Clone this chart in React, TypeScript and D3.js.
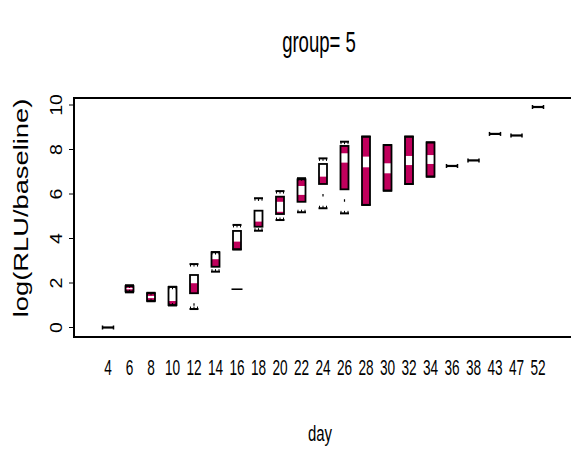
import * as d3 from 'd3';

// one box per day (log RLU / baseline)
const days = ['4', '6', '8', '10', '12', '14', '16', '18', '20', '22', '24', '26', '28', '30', '32', '34', '36', '38', '43', '47', '52'];
const whiskerLow = [0, 1.58, 1.18, 0.99, 0.83, 2.51, 3.51, 4.35, 4.83, 5.18, 5.36, 5.13, 5.51, 6.15, 6.45, 6.78, 7.26, 7.51, 8.7, 8.63, 9.91];
const q1 = [0, 1.62, 1.2, 1.01, 1.54, 2.73, 3.51, 4.53, 5.1, 5.65, 6.45, 6.21, 5.51, 6.15, 6.45, 6.78, 7.26, 7.51, 8.7, 8.63, 9.91];
const medians = [0, 1.75, 1.37, 1.55, 2.2, 3.25, 4.1, 5.0, 5.43, 6.16, 7.1, 7.62, 7.44, 7.15, 7.5, 7.55, 7.26, 7.51, 8.7, 8.63, 9.91];
const q3 = [0, 1.86, 1.54, 1.82, 2.36, 3.38, 4.34, 5.25, 5.88, 6.66, 7.35, 8.16, 8.58, 8.2, 8.58, 8.32, 7.26, 7.51, 8.7, 8.63, 9.91];
const whiskerHigh = [0, 1.9, 1.56, 1.83, 2.85, 3.39, 4.61, 5.81, 6.13, 6.71, 7.6, 8.35, 8.58, 8.2, 8.58, 8.32, 7.26, 7.51, 8.7, 8.63, 9.91];
const notchLo = [0, 1.72, 1.32, 1.19, 1.99, 3.07, 3.86, 4.76, 5.2, 5.96, 6.78, 7.41, 7.2, 6.93, 7.3, 7.35, 7.26, 7.51, 8.7, 8.63, 9.91];
const notchHi = [0, 1.78, 1.42, 1.91, 2.41, 3.43, 4.4, 5.3, 5.65, 6.36, 7.42, 7.83, 7.68, 7.38, 7.71, 7.75, 7.26, 7.51, 8.7, 8.63, 9.91];
const outlierDays = ['16'];
const outlierValues = [1.72];
const yTicks = [0, 2, 4, 6, 8, 10];

const W = 571;
const H = 455;
const frame = { left: 74, top: 98, right: 576, bottom: 337 };
const fill = '#c0005c';
const font = '"Liberation Sans", Arial, sans-serif';

export default function App() {
  const x = d3.scalePoint<string>().domain(days).range([108, 538]);
  const y = d3.scaleLinear().domain([0, 10]).range([327.5, 105]);
  const bw = 4; // half box width
  const cw = 4.5; // half cap width

  const boxes = days.map((d, i) => ({
    day: d,
    cx: x(d) ?? 0,
    lo: whiskerLow[i],
    q1: q1[i],
    med: medians[i],
    q3: q3[i],
    hi: whiskerHigh[i],
    nlo: Math.max(notchLo[i], q1[i]),
    nhi: Math.min(notchHi[i], q3[i]),
  }));

  const cap = (cx: number, v: number, dir: number, ticks: boolean, key: string) => (
    <g key={key}>
      <line x1={cx - cw} x2={cx + cw} y1={y(v)} y2={y(v)} stroke="#000" strokeWidth={2} />
      {ticks &&
        [-3.5, 0, 3.5].map((o) => (
          <line key={o} x1={cx + o} x2={cx + o} y1={y(v)} y2={y(v) + dir * 2.5} stroke="#000" strokeWidth={1} />
        ))}
    </g>
  );

  return (
    <svg width={W} height={H} style={{ position: 'fixed', left: 0, top: 0, background: '#fff' }}>
      <text
        transform={`translate(319,52) scale(0.64,1)`}
        textAnchor="middle"
        fontFamily={font}
        fontSize={29}
      >
        group= 5
      </text>

      {/* frame */}
      <path
        d={`M${frame.right},${frame.top}H${frame.left}V${frame.bottom}H${frame.right}`}
        fill="none"
        stroke="#000"
        strokeWidth={2}
      />

      {/* y axis */}
      {yTicks.map((t) => (
        <g key={t}>
          <line x1={frame.left - 5} x2={frame.left} y1={y(t)} y2={y(t)} stroke="#000" strokeWidth={1} />
          <text
            transform={`translate(62,${y(t)}) rotate(-90) scale(1.15,1)`}
            textAnchor="middle"
            fontFamily={font}
            fontSize={17}
          >
            {t}
          </text>
        </g>
      ))}
      <text
        transform={`translate(28,208) rotate(-90) scale(1.4,1)`}
        textAnchor="middle"
        fontFamily={font}
        fontSize={19.5}
      >
        log(RLU/baseline)
      </text>

      {/* x labels */}
      {days.map((d) => (
        <text
          key={d}
          transform={`translate(${x(d)},375) scale(0.62,1)`}
          textAnchor="middle"
          fontFamily={font}
          fontSize={22}
        >
          {d}
        </text>
      ))}
      <text transform="translate(320,441) scale(0.68,1)" textAnchor="middle" fontFamily={font} fontSize={22}>
        day
      </text>

      {/* boxes */}
      {boxes.map((b) => {
        if (b.q3 - b.q1 < 0.01) {
          const yy = y(b.med);
          return (
            <g key={b.day}>
              <line x1={b.cx - 5.5} x2={b.cx + 5.5} y1={yy} y2={yy} stroke="#000" strokeWidth={2.2} />
              <line x1={b.cx - 5.5} x2={b.cx - 5.5} y1={yy - 2} y2={yy + 2} stroke="#000" strokeWidth={1.5} />
              <line x1={b.cx + 5.5} x2={b.cx + 5.5} y1={yy - 2} y2={yy + 2} stroke="#000" strokeWidth={1.5} />
            </g>
          );
        }
        return (
          <g key={b.day}>
            <line
              x1={b.cx}
              x2={b.cx}
              y1={y(b.q1)}
              y2={y(b.lo)}
              stroke="#000"
              strokeWidth={1.2}
              strokeDasharray="0 10 2.5 300"
            />
            <line
              x1={b.cx}
              x2={b.cx}
              y1={y(b.q3)}
              y2={y(b.hi)}
              stroke="#000"
              strokeWidth={1.2}
              strokeDasharray="0 10 2.5 300"
            />
            <rect x={b.cx - bw} y={y(b.q3)} width={bw * 2} height={y(b.q1) - y(b.q3)} fill={fill} />
            <rect x={b.cx - bw} y={y(b.nhi)} width={bw * 2} height={y(b.nlo) - y(b.nhi)} fill="#fff" />
            <line x1={b.cx - bw} x2={b.cx + bw} y1={y(b.med)} y2={y(b.med)} stroke="#fff" strokeWidth={1} />
            <rect
              x={b.cx - bw}
              y={y(b.q3)}
              width={bw * 2}
              height={y(b.q1) - y(b.q3)}
              fill="none"
              stroke="#000"
              strokeWidth={1.8}
            />
            {cap(b.cx, b.hi, 1, b.hi - b.q3 > 0.01, 'hi')}
            {cap(b.cx, b.lo, -1, b.q1 - b.lo > 0.01, 'lo')}
          </g>
        );
      })}

      {/* outliers */}
      {outlierDays.map((d, i) => (
        <line
          key={d}
          x1={(x(d) ?? 0) - 5.5}
          x2={(x(d) ?? 0) + 5.5}
          y1={y(outlierValues[i])}
          y2={y(outlierValues[i])}
          stroke="#000"
          strokeWidth={1.6}
        />
      ))}
    </svg>
  );
}
